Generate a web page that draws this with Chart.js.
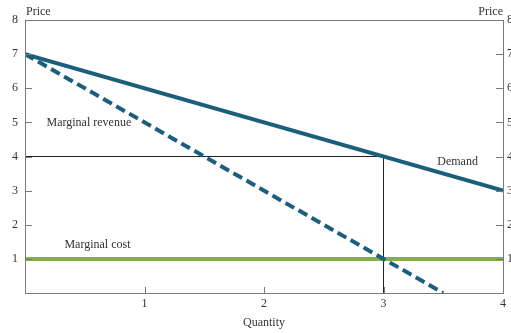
<!DOCTYPE html>
<html><head><meta charset="utf-8">
<script src="https://cdn.jsdelivr.net/npm/chart.js@4"></script>
<style>
html,body{margin:0;padding:0;overflow:hidden;background:#fff}
#wrap{width:523px;height:333px;position:relative}
</style>
</head><body><div id="wrap"><canvas id="c"></canvas></div>
<script>
// Data
const demandQ = [0, 4];
const demandP = [7, 3];
const mrQ = [0, 3.5];
const mrP = [7, 0];
const mcQ = [0, 4];
const mcP = [1, 1];
const guideQ = [0, 3, 3];
const guideP = [4, 4, 0];
const xTicks = [1, 2, 3, 4];
const yTicks = [1, 2, 3, 4, 5, 6, 7, 8];
const curveLabels = ['Marginal revenue', 'Demand', 'Marginal cost'];
const curveLabelQ = [0.18, 3.45, 0.33];
const curveLabelP = [5.0, 3.84, 1.41];

const pts = (xs, ys) => xs.map((x, i) => ({x: x, y: ys[i]}));
const FONT = "'Liberation Serif', 'DejaVu Serif', serif";
const AXIS = '#7a7a7a';

const decor = {
  id: 'decor',
  afterDraw(chart) {
    const {ctx, chartArea: a, scales} = chart;
    const sx = scales.x, sy = scales.y;
    ctx.save();
    ctx.strokeStyle = AXIS;
    ctx.lineWidth = 1;
    ctx.strokeRect(Math.round(a.left) + 0.5, Math.round(a.top) + 0.5,
      Math.round(a.right - a.left), Math.round(a.bottom - a.top));
    ctx.beginPath();
    xTicks.forEach(v => {
      const px = Math.round(sx.getPixelForValue(v)) + 0.5;
      ctx.moveTo(px, a.bottom); ctx.lineTo(px, a.bottom - 6);
    });
    yTicks.forEach(v => {
      const py = Math.round(sy.getPixelForValue(v)) + 0.5;
      ctx.moveTo(a.left, py); ctx.lineTo(a.left + 7, py);
      ctx.moveTo(a.right, py); ctx.lineTo(a.right - 7, py);
    });
    ctx.stroke();
    ctx.fillStyle = '#333';
    ctx.font = '12px ' + FONT;
    ctx.textBaseline = 'bottom';
    ctx.textAlign = 'left';
    ctx.fillText('Price', a.left + 1, a.top - 2);
    ctx.textAlign = 'right';
    ctx.fillText('Price', a.right, a.top - 2);
    ctx.textAlign = 'left';
    ctx.textBaseline = 'middle';
    curveLabels.forEach((t, i) => {
      ctx.fillText(t, sx.getPixelForValue(curveLabelQ[i]), sy.getPixelForValue(curveLabelP[i]));
    });
    ctx.restore();
  }
};

new Chart(document.getElementById('c'), {
  type: 'scatter',
  data: {
    datasets: [
      {data: pts(guideQ, guideP), showLine: true, borderColor: '#222', borderWidth: 1, pointRadius: 0, order: 4},
      {data: pts(mcQ, mcP), showLine: true, borderColor: '#86ae48', borderWidth: 4, pointRadius: 0, order: 3},
      {data: pts(mrQ, mrP), showLine: true, borderColor: '#1b5f7c', borderWidth: 4, borderDash: [10, 5], pointRadius: 0, order: 2},
      {data: pts(demandQ, demandP), showLine: true, borderColor: '#1b5f7c', borderWidth: 4, pointRadius: 0, order: 1}
    ]
  },
  options: {
    responsive: true,
    maintainAspectRatio: false,
    animation: false,
    layout: {padding: {top: 20, left: 0, right: 0, bottom: 0}},
    plugins: {legend: {display: false}, tooltip: {enabled: false}},
    scales: {
      x: {
        type: 'linear', min: 0, max: 4,
        afterBuildTicks: s => { s.ticks = xTicks.map(v => ({value: v})); },
        afterFit: s => { s.height = 40; },
        grid: {display: false, drawTicks: false},
        border: {display: false},
        ticks: {color: '#333', font: {family: FONT, size: 12}, padding: 4},
        title: {display: true, text: 'Quantity', color: '#333', font: {family: FONT, size: 12}, padding: {top: 0, bottom: 3}}
      },
      y: {
        type: 'linear', min: 0, max: 8, position: 'left',
        afterBuildTicks: s => { s.ticks = yTicks.map(v => ({value: v})); },
        afterFit: s => { s.width = 25; },
        grid: {display: false, drawTicks: false},
        border: {display: false},
        ticks: {color: '#333', font: {family: FONT, size: 12}, padding: 7}
      },
      y2: {
        type: 'linear', min: 0, max: 8, position: 'right',
        afterBuildTicks: s => { s.ticks = yTicks.map(v => ({value: v})); },
        afterFit: s => { s.width = 20; },
        grid: {display: false, drawTicks: false},
        border: {display: false},
        ticks: {color: '#333', font: {family: FONT, size: 12}, padding: 4}
      }
    }
  },
  plugins: [decor]
});
</script>
</body></html>
